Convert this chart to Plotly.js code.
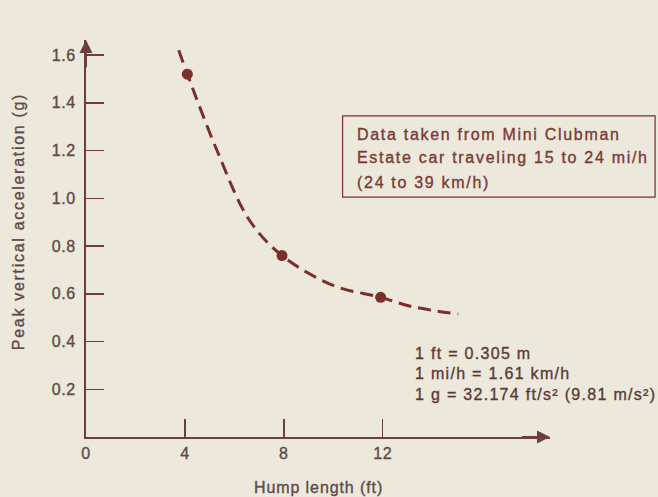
<!DOCTYPE html>
<html>
<head>
<meta charset="utf-8">
<script src="https://cdn.plot.ly/plotly-3.0.1.min.js"></script>
<style>
  html, body { margin: 0; padding: 0; background: #ece8dc; }
  #chart { width: 658px; height: 497px; }
  .xtick text, .ytick text { letter-spacing: 0.6px; stroke: #5d4a46; stroke-width: 0.35px; }
</style>
</head>
<body>
<div id="chart"></div>
<script>
// Measured peaks (hump length in ft, peak vertical acceleration in g)
const humpFt = [4.1, 7.93, 11.92];
const peakG = [1.52, 0.76, 0.585];

// Dashed trend curve drawn through the measurements
const curveFt = [3.75, 4.1, 5.3, 6.6, 7.93, 10, 11.92, 13.2, 15.06];
const curveG = [1.62, 1.52, 1.2, 0.91, 0.76, 0.635, 0.585, 0.546, 0.515];

// Axis ticks
const xTicks = [0, 4, 8, 12];
const xTickText = ['0', '4', '8', '12'];
const yTicks = [0.2, 0.4, 0.6, 0.8, 1.0, 1.2, 1.4, 1.6];
const yTickText = ['0.2', '0.4', '0.6', '0.8', '1.0', '1.2', '1.4', '1.6'];

// Text blocks
const noteLines = ['Data taken from Mini Clubman', 'Estate car traveling 15 to 24 mi/h', '(24 to 39 km/h)'];
const unitLines = ['1 ft = 0.305 m', '1 mi/h = 1.61 km/h', '1 g = 32.174 ft/s² (9.81 m/s²)'];

const xMax = 18.77;
const yMax = 1.663;

const ink = '#7a2f2a';
const axisInk = '#6e3f38';
const labelInk = '#5d4a46';
const noteInk = '#7a3a33';
const unitInk = '#5a3b36';
const font = 'Liberation Sans, Arial, sans-serif';

// letter-spaced, slightly heavier text
function spaced(s, px, color) {
  return '<span style="letter-spacing:' + px + 'px;stroke:' + color + ';stroke-width:0.35px">' + s + '</span>';
}

const traces = [
  {
    x: curveFt, y: curveG, mode: 'lines', type: 'scatter',
    line: { color: ink, width: 3, dash: '13px,7px', shape: 'spline', smoothing: 1 },
    hoverinfo: 'skip', cliponaxis: false
  },
  {
    x: humpFt, y: peakG, mode: 'markers', type: 'scatter',
    marker: { color: ink, size: 11 }, cliponaxis: false
  }
];

const annotations = [
  // arrowheads at the axis ends
  {
    x: xMax, y: 0, ax: xMax - 1.2, ay: 0, xref: 'x', yref: 'y', axref: 'x', ayref: 'y',
    text: '', showarrow: true, arrowhead: 2, arrowsize: 1.3, arrowwidth: 2, arrowcolor: axisInk
  },
  {
    x: 0, y: yMax, ax: 0, ay: yMax - 0.12, xref: 'x', yref: 'y', axref: 'x', ayref: 'y',
    text: '', showarrow: true, arrowhead: 2, arrowsize: 1.3, arrowwidth: 2, arrowcolor: axisInk
  },
  // axis titles
  {
    xref: 'paper', yref: 'paper', x: -0.144, y: 0.5416, xanchor: 'center', yanchor: 'middle',
    text: spaced('Peak vertical acceleration (g)', 1.7, labelInk), textangle: -90, showarrow: false,
    font: { family: font, size: 16, color: labelInk }
  },
  {
    xref: 'paper', yref: 'paper', x: 0.5, y: -0.128, xanchor: 'center', yanchor: 'middle',
    text: spaced('Hump length (ft)', 0.9, labelInk), showarrow: false,
    font: { family: font, size: 16, color: labelInk }
  }
];

// boxed note, one annotation per line
const noteY = [0.7632, 0.7028, 0.6423];
noteLines.forEach((s, i) => annotations.push({
  xref: 'paper', yref: 'paper', x: 0.5797, y: noteY[i], xanchor: 'left', yanchor: 'middle',
  showarrow: false, text: spaced(s, 1.7, noteInk),
  font: { family: font, size: 16, color: noteInk }
}));

// unit conversions
const unitY = [0.2091, 0.1587, 0.1083];
unitLines.forEach((s, i) => annotations.push({
  xref: 'paper', yref: 'paper', x: 0.7047, y: unitY[i], xanchor: 'left', yanchor: 'middle',
  showarrow: false, text: spaced(s, 1.3, unitInk),
  font: { family: font, size: 16, color: unitInk }
}));

const layout = {
  width: 658, height: 497,
  margin: { l: 86, r: 108, t: 40, b: 60 },
  paper_bgcolor: '#ece8dc', plot_bgcolor: '#ece8dc',
  showlegend: false,
  font: { family: font, color: labelInk, size: 16 },
  xaxis: {
    range: [0, xMax], showgrid: false, zeroline: false,
    showline: true, linecolor: axisInk, linewidth: 2,
    ticks: 'inside', ticklen: 18, tickwidth: 1.5, tickcolor: axisInk,
    tickvals: xTicks, ticktext: xTickText, ticklabelstandoff: 1,
    tickfont: { family: font, size: 16, color: labelInk }
  },
  yaxis: {
    range: [0, yMax], showgrid: false, zeroline: false,
    showline: true, linecolor: axisInk, linewidth: 2,
    ticks: 'inside', ticklen: 18, tickwidth: 1.5, tickcolor: axisInk,
    tickvals: yTicks, ticktext: yTickText, ticklabelstandoff: 5,
    tickfont: { family: font, size: 16, color: labelInk }
  },
  shapes: [
    {
      type: 'rect', xref: 'paper', yref: 'paper',
      x0: 0.553, x1: 1.2265, y0: 0.604, y1: 0.809,
      line: { color: ink, width: 1.2 }, fillcolor: 'rgba(0,0,0,0)'
    }
  ],
  annotations: annotations
};

Plotly.newPlot('chart', traces, layout, { displayModeBar: false, staticPlot: true });
</script>
</body>
</html>
